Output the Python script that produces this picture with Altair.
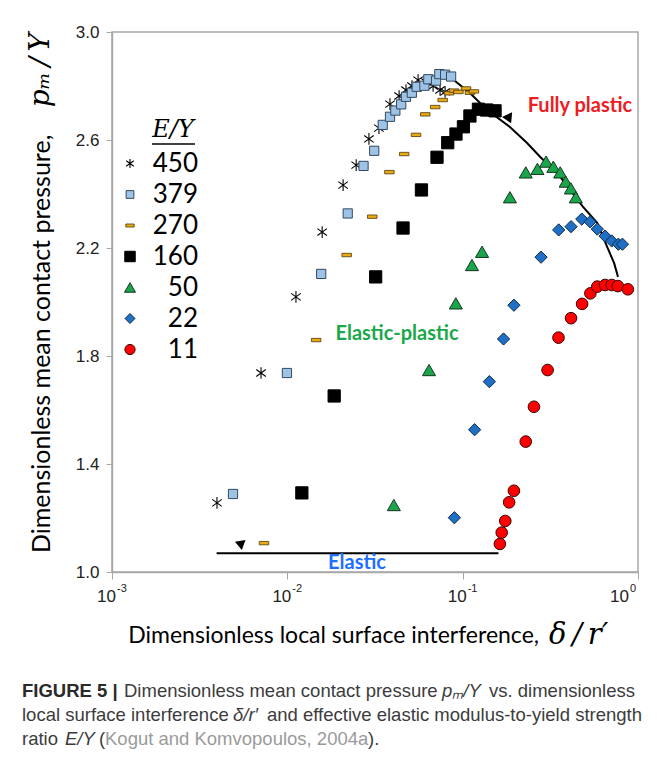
import altair as alt
import pandas as pd

# ---------------- data ----------------
ey_labels = ["450", "379", "270", "160", "50", "22", "11"]

x_450 = [0.00397, 0.00708, 0.0112, 0.0158, 0.0208, 0.0247, 0.0292, 0.0333, 0.0385, 0.0434,
         0.0475, 0.0514, 0.0557, 0.0618, 0.0678, 0.0743, 0.0794]
y_450 = [1.256, 1.737, 2.019, 2.259, 2.433, 2.507, 2.604, 2.644, 2.733, 2.763,
         2.785, 2.800, 2.822, 2.815, 2.800, 2.785, 2.778]

x_379 = [0.00490, 0.00995, 0.0156, 0.0221, 0.0272, 0.0313, 0.0350, 0.0385, 0.0413, 0.0446,
         0.0475, 0.0513, 0.0547, 0.0605, 0.0637, 0.0705, 0.0736, 0.0794, 0.0859]
y_379 = [1.289, 1.737, 2.104, 2.328, 2.504, 2.560, 2.656, 2.686, 2.709, 2.732,
         2.760, 2.775, 2.797, 2.801, 2.825, 2.820, 2.844, 2.842, 2.835]

x_270 = [0.00736, 0.0146, 0.0218, 0.0305, 0.0382, 0.0464, 0.0542, 0.0612, 0.0697, 0.0769,
         0.0835, 0.0893, 0.0946, 0.1045, 0.110, 0.116]
y_270 = [1.107, 1.859, 2.174, 2.316, 2.481, 2.548, 2.619, 2.695, 2.722, 2.748,
         2.773, 2.783, 2.778, 2.791, 2.775, 2.780]

x_160 = [0.0121, 0.0185, 0.0319, 0.0457, 0.0582, 0.0714, 0.0822, 0.0916, 0.101, 0.110,
         0.123, 0.137, 0.153]
y_160 = [1.293, 1.652, 2.093, 2.274, 2.415, 2.536, 2.590, 2.622, 2.649, 2.689,
         2.714, 2.711, 2.708]

x_50 = [0.0405, 0.0643, 0.0914, 0.113, 0.129, 0.186, 0.229, 0.267, 0.299, 0.329,
        0.360, 0.387, 0.414, 0.442]
y_50 = [1.248, 1.748, 1.995, 2.137, 2.186, 2.388, 2.480, 2.493, 2.520, 2.501,
        2.480, 2.446, 2.421, 2.388]

x_22 = [0.0897, 0.117, 0.142, 0.171, 0.196, 0.280, 0.353, 0.415, 0.478, 0.533,
        0.586, 0.649, 0.708, 0.773, 0.815]
y_22 = [1.201, 1.527, 1.705, 1.863, 1.988, 2.166, 2.267, 2.279, 2.307, 2.297,
        2.270, 2.244, 2.226, 2.214, 2.214]

x_11 = [0.163, 0.167, 0.175, 0.184, 0.196, 0.229, 0.255, 0.305, 0.352, 0.415,
        0.480, 0.535, 0.586, 0.649, 0.708, 0.767, 0.875]
y_11 = [1.104, 1.146, 1.189, 1.258, 1.301, 1.483, 1.612, 1.748, 1.868, 1.940,
        1.993, 2.032, 2.057, 2.063, 2.063, 2.059, 2.047]

# fully plastic limit curve
x_fp = [0.0847, 0.110, 0.138, 0.186, 0.233, 0.277, 0.346, 0.410, 0.486, 0.585, 0.667, 0.731, 0.769]
y_fp = [2.833, 2.774, 2.711, 2.648, 2.589, 2.537, 2.478, 2.415, 2.352, 2.293, 2.204, 2.144, 2.093]
# elastic limit line
x_el = [0.00395, 0.160]
y_el = [1.069, 1.069]
# end markers
x_fp_mark, y_fp_mark = [0.184], [2.678]
x_el_mark, y_el_mark = [0.00532], [1.106]

x_ticks = [0.001, 0.01, 0.1, 1.0]
x_tick_exp = ["-3", "-2", "-1", "0"]
y_ticks = [1.0, 1.4, 1.8, 2.2, 2.6, 3.0]

# ---------------- styling ----------------
W, H = 526, 540
SANS = "Lato"
SERIF = "DejaVu Serif"
AX_GRAY = "#a8a8a8"

ASTERISK = "M0,-1L0,1M-0.82,-0.6L0.82,0.6M-0.82,0.6L0.82,-0.6"
DASH = "M-1,-0.36L1,-0.36L1,0.36L-1,0.36Z"

styles = {
    "450": dict(shape=ASTERISK, filled=False, stroke="black", strokeWidth=1.1, size=135),
    "379": dict(shape="square", filled=True, fill="#9dc3e6", stroke="#34495e", strokeWidth=1, size=85),
    "270": dict(shape=DASH, filled=True, fill="#eaa912", stroke="#4d3a08", strokeWidth=0.8, size=90),
    "160": dict(shape="square", filled=True, fill="black", stroke="black", strokeWidth=1, size=150),
    "50": dict(shape="triangle-up", filled=True, fill="#1aa54c", stroke="#15361f", strokeWidth=1, size=170),
    "22": dict(shape="diamond", filled=True, fill="#1f6fc4", stroke="#0f2a48", strokeWidth=1, size=150),
    "11": dict(shape="circle", filled=True, fill="#ff0000", stroke="#3a0000", strokeWidth=1, size=135),
}
legend_size = {"450": 85, "379": 60, "270": 70, "160": 110, "50": 120, "22": 100, "11": 105}

xscale = alt.Scale(type="log", domain=[0.001, 1.0], nice=False)
yscale = alt.Scale(domain=[1.0, 3.0], nice=False, zero=False)

X_AX = alt.Axis(values=x_ticks, labels=False, title=None, grid=False,
                tickSize=7, tickColor=AX_GRAY, domainColor=AX_GRAY, domainWidth=1.5)
Y_AX = alt.Axis(values=y_ticks, format=".1f", title=None, grid=False,
                tickSize=6, tickColor=AX_GRAY, domainColor=AX_GRAY, domainWidth=1.5,
                labelFont="Liberation Sans", labelFontSize=17, labelColor="#222222",
                labelPadding=7)


def xy(xs, ys):
    return pd.DataFrame({"x": xs, "y": ys})


def XE():
    return alt.X("x:Q", scale=xscale, axis=X_AX)


def YE():
    return alt.Y("y:Q", scale=yscale, axis=Y_AX)


layers = []

# limit curves
layers.append(alt.Chart(xy(x_fp, y_fp)).mark_line(color="black", strokeWidth=2).encode(x=XE(), y=YE()))
layers.append(alt.Chart(xy(x_el, y_el)).mark_line(color="black", strokeWidth=2).encode(x=XE(), y=YE()))
layers.append(alt.Chart(xy(x_fp_mark, y_fp_mark)).mark_point(
    shape="triangle-down", filled=True, color="black", size=125, angle=335, opacity=1).encode(x=XE(), y=YE()))
layers.append(alt.Chart(xy(x_el_mark, y_el_mark)).mark_point(
    shape="triangle-left", filled=True, color="black", size=115, angle=20, opacity=1).encode(x=XE(), y=YE()))

# data series
series = {
    "450": (x_450, y_450), "379": (x_379, y_379), "270": (x_270, y_270),
    "160": (x_160, y_160), "50": (x_50, y_50), "22": (x_22, y_22), "11": (x_11, y_11),
}
for key, (xs, ys) in series.items():
    layers.append(alt.Chart(xy(xs, ys)).mark_point(opacity=1, **styles[key]).encode(x=XE(), y=YE()))

# custom x tick labels 10^n
tick_df = pd.DataFrame({"x": x_ticks, "e": x_tick_exp})
for cond, dx_base in [("datum.x < 0.5", 4), ("datum.x >= 0.5", -9)]:
    base = alt.Chart(tick_df).transform_filter(cond)
    layers.append(base.mark_text(text="10", align="right", baseline="middle", dx=dx_base,
                                 font="Liberation Sans", fontSize=17, color="#222222").encode(
        x=XE(), y=alt.value(565)))
    layers.append(base.mark_text(align="left", baseline="middle", dx=dx_base + 1, dy=-8,
                                 font="Liberation Sans", fontSize=11, color="#222222").encode(
        x=XE(), y=alt.value(565), text="e:N"))

one = pd.DataFrame({"a": [0]})


def txt(s, x, y, **kw):
    return alt.Chart(one).mark_text(text=s, **kw).encode(x=alt.value(x), y=alt.value(y))


# axis titles
layers.append(txt("Dimensionless local surface interference,", 427, 604, align="right",
                  baseline="middle", font=SANS, fontSize=23, color="black"))
layers.append(txt("δ\u2009/\u2009r′", 437, 603, align="left", baseline="middle", font=SERIF,
                  fontStyle="italic", fontSize=29, color="black"))
layers.append(txt("Dimensionless mean contact pressure,", -70, 521, align="left", angle=270,
                  baseline="middle", font=SANS, fontSize=25, color="black"))
layers.append(txt("pₘ\u2009/\u2009Y", -71, 1, align="right", angle=270, baseline="middle", font=SERIF,
                  fontStyle="italic", fontSize=28, color="black"))

# region annotations
layers.append(txt("Fully plastic", 468, 74, align="center", baseline="middle", font=SANS,
                  fontWeight="bold", fontSize=20, color="#ee1c24"))
layers.append(txt("Elastic-plastic", 285, 302, align="center", baseline="middle", font=SANS,
                  fontWeight="bold", fontSize=20, color="#1aa84a"))
layers.append(txt("Elastic", 245, 531, align="center", baseline="middle", font=SANS,
                  fontWeight="bold", fontSize=20, color="#1f6fff"))

# custom legend
layers.append(txt("E/Y", 61, 98, align="center", baseline="middle", font=SERIF,
                  fontStyle="italic", fontSize=24, color="black"))
layers.append(alt.Chart(one).mark_rule(color="black", strokeWidth=1.5).encode(
    x=alt.value(40), x2=alt.value(83), y=alt.value(112)))
for i, key in enumerate(ey_labels):
    yy = 131.5 + 31 * i
    st = dict(styles[key])
    st["size"] = legend_size[key]
    layers.append(alt.Chart(one).mark_point(opacity=1, **st).encode(x=alt.value(18), y=alt.value(yy)))
    layers.append(txt(key, 86, yy, align="right", baseline="middle", font=SANS, fontSize=26,
                      color="black"))

# caption
CAP = "Liberation Sans"
CF = 18.5
c1, c2, c3 = 659, 683, 707
CC = "#3c3c3c"
layers.append(txt("FIGURE 5 |", -90, c1, align="left", baseline="middle", font=CAP, fontSize=CF,
                  fontWeight="bold", color="#2a2a2a"))
layers.append(txt("Dimensionless mean contact pressure", 12, c1, align="left", baseline="middle",
                  font=CAP, fontSize=CF, color=CC))
layers.append(txt("pₘ/Y", 330, c1, align="left", baseline="middle", font=CAP, fontSize=CF,
                  fontStyle="italic", color=CC))
layers.append(txt("vs. dimensionless", 377, c1, align="left", baseline="middle", font=CAP,
                  fontSize=CF, color=CC))
layers.append(txt("local surface interference", -90, c2, align="left", baseline="middle",
                  font=CAP, fontSize=CF, color=CC))
layers.append(txt("δ/r′", 121, c2, align="left", baseline="middle", font=CAP, fontSize=CF,
                  fontStyle="italic", color=CC))
layers.append(txt("and effective elastic modulus-to-yield strength", 155, c2, align="left",
                  baseline="middle", font=CAP, fontSize=CF, color=CC))
layers.append(txt("ratio", -90, c3, align="left", baseline="middle", font=CAP, fontSize=CF,
                  color=CC))
layers.append(txt("E/Y", -47, c3, align="left", baseline="middle", font=CAP, fontSize=CF,
                  fontStyle="italic", color=CC))
layers.append(txt("(", -13, c3, align="left", baseline="middle", font=CAP, fontSize=CF,
                  color=CC))
layers.append(txt("Kogut and Komvopoulos, 2004a", -7, c3, align="left", baseline="middle",
                  font=CAP, fontSize=CF, color="#9a9a9a"))
layers.append(txt(").", 256, c3, align="left", baseline="middle", font=CAP, fontSize=CF,
                  color=CC))

chart = alt.layer(*layers).properties(
    width=W, height=H,
    autosize=alt.AutoSizeParams(type="none"),
    padding={"left": 104, "top": 24, "right": 26, "bottom": 187},
    background="white",
).configure_view(stroke=AX_GRAY, strokeWidth=1.5)

chart.save("out.html", embed_options={"renderer": "svg", "actions": False})
